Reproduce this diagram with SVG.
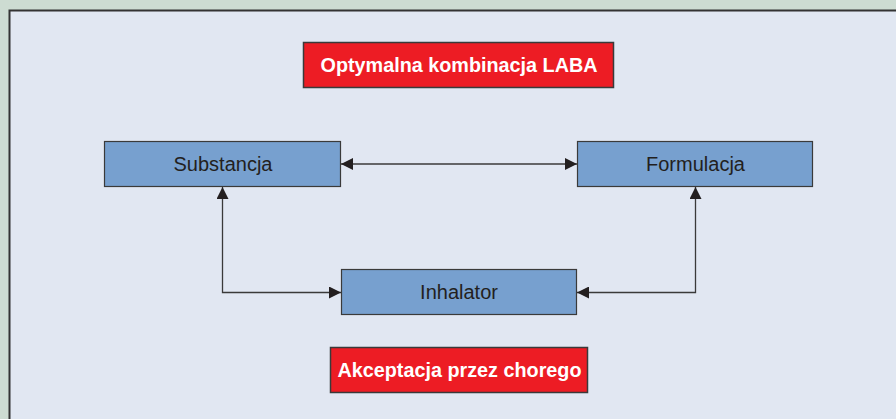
<svg xmlns="http://www.w3.org/2000/svg" width="896" height="419" viewBox="0 0 896 419">
<defs>
<marker id="ah" viewBox="0 0 12 12" refX="12" refY="6" markerWidth="12" markerHeight="12" markerUnits="userSpaceOnUse" orient="auto-start-reverse">
<path d="M0,0 L12,6 L0,12 Z" fill="#231f20"/>
</marker>
<style>
.blue{fill:#77a0cf;stroke:#3a3a3a;stroke-width:1.2}
.red{fill:#ed1c24;stroke:#3a3a3a;stroke-width:1.5}
.t{font-family:"Liberation Sans",Arial,sans-serif;font-size:20px;fill:#231f20;text-anchor:middle}
.w{font-family:"Liberation Sans",Arial,sans-serif;font-size:19.8px;font-weight:bold;fill:#ffffff;text-anchor:middle}
.c{fill:none;stroke:#3a3a3a;stroke-width:1.3}
</style>
</defs>
<rect x="0" y="0" width="896" height="419" fill="#cddcd2"/>
<rect x="9.5" y="10.5" width="890" height="412" fill="#e1e7f2" stroke="#333" stroke-width="2"/>
<g id="connectors">
<path class="c" d="M341,164 H577" marker-start="url(#ah)" marker-end="url(#ah)"/>
<path class="c" d="M222.5,187 V292.5 H341" marker-start="url(#ah)" marker-end="url(#ah)"/>
<path class="c" d="M695.5,187 V292.5 H577" marker-start="url(#ah)" marker-end="url(#ah)"/>
</g>
<g id="laba">
<rect class="red" x="303.5" y="42.5" width="310" height="45"/>
<text class="w" x="459" y="72">Optymalna kombinacja LABA</text>
</g>
<g id="substancja">
<rect class="blue" x="104.5" y="141.5" width="236" height="45"/>
<text class="t" x="223" y="170.5">Substancja</text>
</g>
<g id="formulacja">
<rect class="blue" x="577.5" y="141.5" width="235" height="45"/>
<text class="t" x="695.5" y="170.5">Formulacja</text>
</g>
<g id="inhalator">
<rect class="blue" x="341.5" y="269.5" width="235" height="45"/>
<text class="t" x="459" y="298.5">Inhalator</text>
</g>
<g id="akceptacja">
<rect class="red" x="330.5" y="347.5" width="257" height="45"/>
<text class="w" x="459.5" y="377">Akceptacja przez chorego</text>
</g>
</svg>
